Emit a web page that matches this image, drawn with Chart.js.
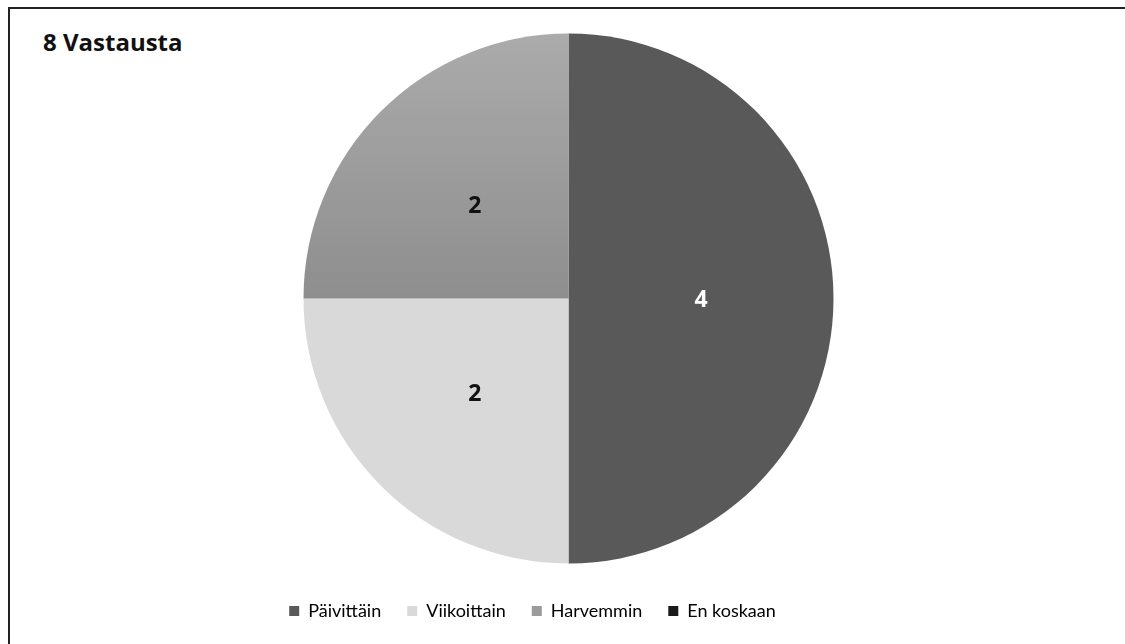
<!DOCTYPE html>
<html lang="fi">
<head>
  <meta charset="UTF-8">
  <title>8 Vastausta</title>
  <script src="https://cdn.jsdelivr.net/npm/chart.js"></script>
  <style>
    body {
      margin: 0;
      background: #fff;
      font-family: 'Lato', sans-serif;
    }
    .frame {
      position: absolute;
      left: 8px;
      top: 7px;
      width: 1130px;
      height: 650px;
      border: 2px solid #222;
      box-sizing: border-box;
    }
    .title {
      position: absolute;
      left: 43px;
      top: 25px;
      font-family: 'Open Sans', sans-serif;
      font-weight: bold;
      font-size: 24px;
      color: #111;
    }
    .chart-box {
      position: absolute;
      left: 0;
      top: 0;
      width: 1125px;
      height: 644px;
    }
  </style>
</head>
<body>
  <div class="frame"></div>
  <div class="title">8 Vastausta</div>
  <div class="chart-box">
    <canvas id="pie"></canvas>
  </div>

  <script>
    const categories = ['Päivittäin', 'Viikoittain', 'Harvemmin', 'En koskaan'];
    const answers = [4, 2, 2, 0];
    const sliceColors = ['#595959', '#d9d9d9', null, '#1a1a1a'];
    const labelColors = ['#ffffff', '#111111', '#111111', '#ffffff'];

    // Harvemmin slice has a soft vertical gradient
    function harvemminFill(chart) {
      const area = chart.chartArea;
      if (!area) return '#9b9b9b';
      const midY = (area.top + area.bottom) / 2;
      const g = chart.ctx.createLinearGradient(0, midY - 265, 0, midY);
      g.addColorStop(0, '#ababab');
      g.addColorStop(1, '#8e8e8e');
      return g;
    }

    // value labels in the middle of each slice
    const sliceLabels = {
      id: 'sliceLabels',
      afterDatasetsDraw(chart) {
        const ctx = chart.ctx;
        const meta = chart.getDatasetMeta(0);
        ctx.save();
        ctx.font = 'bold 23px "Open Sans", sans-serif';
        ctx.textAlign = 'center';
        ctx.textBaseline = 'middle';
        meta.data.forEach((arc, i) => {
          if (!answers[i]) return;
          const pos = arc.tooltipPosition();
          ctx.fillStyle = labelColors[i];
          ctx.fillText(answers[i], pos.x, pos.y + 2);
        });
        ctx.restore();
      }
    };

    // legend sits a bit left of the pie centre in the original
    const legendShift = {
      id: 'legendShift',
      afterLayout(chart) {
        chart.legend.left -= 36;
        chart.legend.right -= 36;
      }
    };

    const chart = new Chart(document.getElementById('pie'), {
      type: 'pie',
      data: {
        labels: categories,
        datasets: [{
          data: answers,
          backgroundColor: (c) => sliceColors[c.dataIndex] || harvemminFill(c.chart),
          borderWidth: 0
        }]
      },
      options: {
        responsive: true,
        maintainAspectRatio: false,
        animation: false,
        radius: 265,
        layout: {
          padding: { top: 21, left: 12, right: 0, bottom: 14 }
        },
        plugins: {
          tooltip: { enabled: false },
          legend: {
            position: 'bottom',
            labels: {
              boxWidth: 10,
              boxHeight: 10,
              padding: 26,
              color: '#4a5567',
              font: { family: 'Lato, sans-serif', size: 18 },
              generateLabels(ch) {
                return categories.map((name, i) => ({
                  text: name,
                  fillStyle: sliceColors[i] || '#9b9b9b',
                  strokeStyle: 'transparent',
                  lineWidth: 0,
                  hidden: false,
                  index: i
                }));
              }
            }
          }
        }
      },
      plugins: [sliceLabels, legendShift]
    });
  </script>
</body>
</html>
